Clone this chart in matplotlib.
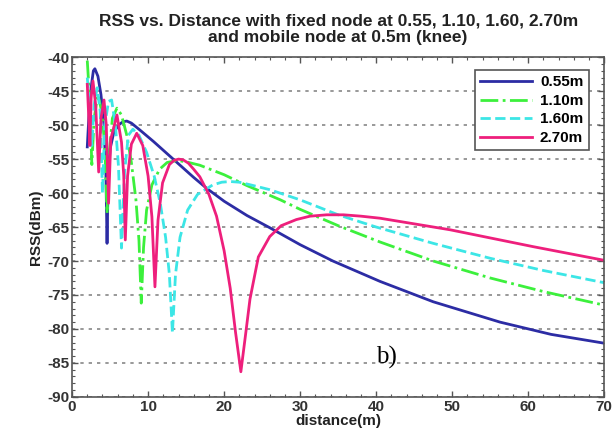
"""
RSS vs distance plot (two-ray style curves) for four fixed node heights.
"""

import matplotlib
matplotlib.use("Agg")
import matplotlib.pyplot as plt
from matplotlib.ticker import MultipleLocator

# ============================================================
# THEME
# ============================================================

plt.rcParams["font.family"] = "Liberation Sans"
plt.rcParams["font.weight"] = "bold"
plt.rcParams["axes.unicode_minus"] = False
plt.rcParams["xtick.direction"] = "in"
plt.rcParams["ytick.direction"] = "in"
plt.rcParams["xtick.top"] = True
plt.rcParams["ytick.right"] = True

# ============================================================
# DATA
# ============================================================

LABELS = ["0.55m", "1.10m", "1.60m", "2.70m"]

dist_055 = [2.0, 2.2, 2.5, 2.8, 3.0, 3.4, 3.8, 4.2, 4.45, 4.6, 4.75, 5.0,
            5.5, 6.2, 6.7, 7.2, 7.8, 8.9, 10.7, 12.3, 14.2, 16.0, 17.7,
            20.0, 23.0, 26.0, 30.0, 34.3, 40.5, 47.5, 56.3, 63.0, 70.0]
rss_055 = [-53.2, -49.0, -44.5, -42.0, -41.7, -42.8, -45.5, -50.0, -57.0,
           -67.4, -58.0, -53.5, -51.0, -49.9, -49.5, -49.4, -49.7, -50.7,
           -52.4, -54.0, -55.9, -57.7, -59.3, -61.2, -63.3, -65.1, -67.6,
           -70.0, -73.0, -76.0, -79.0, -80.8, -82.1]

dist_110 = [2.0, 2.3, 2.6, 2.9, 3.4, 3.9, 4.3, 4.6, 4.9, 5.3, 5.9, 6.5,
            7.2, 7.8, 8.4, 8.8, 9.1, 9.4, 9.8, 10.5, 11.5, 12.5, 13.8,
            15.0, 16.8, 20.0, 23.0, 27.4, 30.0, 35.0, 40.5, 47.5, 55.0,
            62.0, 70.0]
rss_110 = [-40.5, -46.0, -55.8, -49.0, -45.5, -48.0, -53.0, -63.0, -54.0,
           -49.0, -47.5, -48.5, -51.5, -55.5, -61.0, -67.0, -76.2, -68.0,
           -62.5, -58.8, -56.5, -55.5, -55.2, -55.4, -55.9, -57.3, -58.9,
           -61.0, -62.4, -64.8, -67.2, -70.0, -72.5, -74.5, -76.5]

dist_160 = [2.0, 2.3, 2.6, 2.9, 3.3, 3.7, 4.0, 4.3, 4.8, 5.2, 5.7, 6.1,
            6.5, 6.9, 7.4, 8.0, 8.8, 9.8, 10.8, 11.6, 12.3, 12.8, 13.2,
            13.6, 14.2, 15.2, 16.5, 18.5, 19.7, 20.8, 22.0, 23.5, 26.0,
            30.0, 35.0, 40.0, 47.5, 55.0, 62.0, 70.0]
rss_160 = [-43.0, -47.0, -53.0, -47.0, -44.5, -48.0, -60.0, -50.0, -46.5,
           -46.3, -50.0, -56.0, -68.1, -57.0, -51.5, -50.6, -51.5, -54.0,
           -57.5, -61.5, -66.5, -72.0, -80.6, -72.0, -66.5, -62.5, -60.2,
           -58.8, -58.4, -58.3, -58.4, -58.8, -59.5, -61.0, -63.2, -65.0,
           -67.4, -69.6, -71.4, -73.2]

dist_270 = [2.0, 2.2, 2.35, 2.5, 2.75, 3.1, 3.5, 3.8, 4.2, 4.5, 4.8, 5.1,
            5.9, 6.5, 6.8, 7.0, 7.3, 7.8, 8.5, 9.3, 10.0, 10.5, 10.9, 11.3,
            11.9, 12.8, 13.4, 14.0, 14.6, 15.3, 16.0, 16.8, 18.0, 19.0,
            20.0, 20.8, 21.5, 22.2, 22.8, 23.4, 24.5, 26.0, 27.5, 29.5,
            31.3, 33.5, 35.7, 38.0, 40.5, 49.7, 60.7, 70.0]
rss_270 = [-44.0, -49.0, -53.0, -46.0, -43.5, -47.0, -56.9, -49.0, -46.3,
           -50.0, -61.5, -52.0, -48.5, -52.5, -57.5, -66.9, -57.5, -52.8,
           -51.2, -53.0, -57.5, -63.5, -73.8, -64.0, -58.5, -55.8, -55.2,
           -55.0, -55.1, -55.6, -56.5, -57.6, -60.2, -63.4, -68.5, -74.0,
           -80.5, -86.3, -81.0, -75.6, -69.4, -66.4, -64.8, -63.9, -63.4,
           -63.2, -63.2, -63.4, -63.7, -65.4, -67.9, -69.9]

SERIES = [
    (dist_055, rss_055, "#2c2ca4", "-"),
    (dist_110, rss_110, "#3cf03c", "-."),
    (dist_160, rss_160, "#3ce6e6", "--"),
    (dist_270, rss_270, "#ee1f7c", "-"),
]

TITLE = ("RSS vs. Distance with fixed node at 0.55, 1.10, 1.60, 2.70m\n"
         "and mobile node at 0.5m (knee)")


# ============================================================
# FIGURE
# ============================================================

def plot_rss_vs_distance():

    fig = plt.figure(figsize=(6.16, 4.40), dpi=100)
    ax = fig.add_axes([0.117, 0.098, 0.864, 0.772])

    for (d, rss, color, style), label in zip(SERIES, LABELS):
        ax.plot(d, rss, color=color, linestyle=style, linewidth=2.0,
                label=label)

    ax.set_xlim(0, 70)
    ax.set_ylim(-90, -40)

    ax.xaxis.set_major_locator(MultipleLocator(10))
    ax.xaxis.set_minor_locator(MultipleLocator(2))
    ax.yaxis.set_major_locator(MultipleLocator(5))
    ax.yaxis.set_minor_locator(MultipleLocator(1))
    ax.tick_params(which="major", length=4, width=1, color="#555555",
                   labelsize=11, labelcolor="#333333", pad=2)
    ax.tick_params(which="minor", length=2, width=0.8, color="#555555")

    ax.yaxis.grid(True, linestyle=(0, (2, 3)), color="#888888",
                  linewidth=1.2)
    ax.set_axisbelow(True)

    for spine in ax.spines.values():
        spine.set_color("#555555")
        spine.set_linewidth(1.2)

    ax.set_title(TITLE, fontsize=12.5, fontweight="bold", pad=11,
                 linespacing=1.1, color="#222222")
    ax.set_xlabel("distance(m)", fontsize=11, fontweight="bold",
                  labelpad=0, color="#222222")
    ax.set_ylabel("RSS(dBm)", fontsize=11, fontweight="bold",
                  labelpad=3, color="#222222")

    ax.text(41.3, -84.2, "b)", family="Liberation Serif", fontsize=18,
            fontweight="normal", ha="center", va="center")

    leg = ax.legend(loc="upper right", bbox_to_anchor=(0.985, 0.985),
                    fancybox=False, framealpha=1, edgecolor="#555555",
                    fontsize=11, handlelength=3.4, handletextpad=0.5,
                    labelspacing=0.3, borderpad=0.35)
    leg.get_frame().set_linewidth(1.2)

    fig.savefig("out.png", dpi=100)
    plt.close(fig)


if __name__ == "__main__":

    plot_rss_vs_distance()
